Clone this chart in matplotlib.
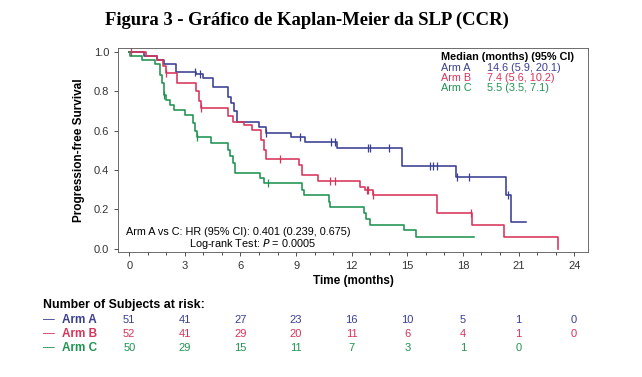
import numpy as np
import matplotlib
matplotlib.use('Agg')
import matplotlib.pyplot as plt
from matplotlib.ticker import MultipleLocator

plt.rcParams['font.family'] = ['Liberation Sans', 'DejaVu Sans']

# Kaplan-Meier step points (time in months, survival)
t_a = [0, 0.8, 1.5, 1.9, 2.5, 3.6, 4.0, 4.5, 5.35, 5.5, 5.65, 5.8, 7.0, 7.4,
       8.7, 9.5, 11.2, 14.7, 17.6, 20.3, 20.6, 21.4]
s_a = [1.0, 0.98, 0.96, 0.94, 0.90, 0.885, 0.865, 0.82, 0.77, 0.74, 0.70, 0.645,
       0.62, 0.59, 0.567, 0.541, 0.511, 0.423, 0.365, 0.274, 0.137, 0.137]
cens_a = [3.55, 3.8, 7.4, 9.2, 10.9, 11.1, 12.9, 13.0, 14.0, 16.2, 16.4, 16.6,
          17.7, 18.3, 20.45]

t_b = [0, 0.9, 1.5, 1.8, 2.0, 2.6, 3.6, 3.75, 3.85, 5.3, 5.6, 6.2, 6.6, 7.1,
       7.25, 7.4, 9.13, 9.3, 10.2, 12.45, 12.7, 13.15, 16.6, 18.5, 20.2, 23.15]
s_b = [1.0, 0.98, 0.96, 0.93, 0.89, 0.84, 0.80, 0.75, 0.714, 0.672, 0.646, 0.63,
       0.604, 0.553, 0.50, 0.455, 0.426, 0.376, 0.342, 0.316, 0.30, 0.274, 0.181,
       0.122, 0.062, 0.0]
cens_b = [0.1, 2.0, 3.85, 8.15, 10.85, 11.1, 12.8, 12.9, 13.15, 18.45]

t_c = [0, 0.03, 0.7, 1.4, 1.65, 1.75, 1.85, 2.0, 2.2, 2.4, 3.0, 3.45, 3.55, 3.65,
       4.4, 5.3, 5.45, 5.6, 5.72, 7.05, 7.25, 9.3, 9.4, 10.75, 10.84, 12.65,
       12.75, 13.0, 14.8, 15.45, 18.57]
s_c = [1.0, 0.98, 0.96, 0.94, 0.88, 0.84, 0.78, 0.756, 0.731, 0.706, 0.68, 0.638,
       0.60, 0.57, 0.537, 0.503, 0.47, 0.435, 0.384, 0.359, 0.333, 0.30, 0.274,
       0.24, 0.211, 0.181, 0.15, 0.122, 0.096, 0.062, 0.062]
cens_c = [1.85, 3.65, 7.5]

arms = ['Arm A', 'Arm B', 'Arm C']
colors = ['#3a3f92', '#d8335a', '#1f9350']
medians = ['14.6 (5.9, 20.1)', '7.4 (5.6, 10.2)', '5.5 (3.5, 7.1)']

risk_times = [0, 3, 6, 9, 12, 15, 18, 21, 24]
risk_a = [51, 41, 27, 23, 16, 10, 5, 1, 0]
risk_b = [52, 41, 29, 20, 11, 6, 4, 1, 0]
risk_c = [50, 29, 15, 11, 7, 3, 1, 0]

curves = [(t_a, s_a, cens_a), (t_b, s_b, cens_b), (t_c, s_c, cens_c)]
risks = [risk_a, risk_b, risk_c]

fig = plt.figure(figsize=(6.42, 3.77), dpi=100)
ax = fig.add_axes([0.184, 0.332, 0.732, 0.541])

for (t, s, cens), col in zip(curves, colors):
    ax.step(t, s, where='post', color=col, lw=1.15)
    t_arr = np.array(t)
    idx = np.searchsorted(t_arr, cens, side='right') - 1
    ys = np.array(s)[idx]
    ax.plot(cens, ys, ls='none', marker='|', ms=6, mew=0.9, color=col)

ax.set_xlim(-0.6, 24.75)
ax.set_ylim(-0.015, 1.02)
ax.xaxis.set_major_locator(MultipleLocator(3))
ax.xaxis.set_minor_locator(MultipleLocator(1))
ax.set_yticks([0, 0.2, 0.4, 0.6, 0.8, 1.0])
ax.set_yticklabels(['0.0', '0.2', '0.4', '0.6', '0.8', '1.0'])
ax.tick_params(labelsize=8, colors='#333333', length=3, width=0.6)
ax.tick_params(which='minor', length=2, width=0.5)
for sp in ax.spines.values():
    sp.set_linewidth(0.6)
    sp.set_color('#555555')

ax.set_xlabel('Time (months)', fontsize=8.5, fontweight='bold', labelpad=3)
ax.set_ylabel('Progression-free Survival', fontsize=8.5, fontweight='bold', labelpad=6)

# medians box
ax.text(0.688, 0.955, 'Median (months) (95% CI)', transform=ax.transAxes,
        fontsize=7.8, fontweight='bold', ha='left', va='center')
for i, (arm, med, col) in enumerate(zip(arms, medians, colors)):
    yy = 0.903 - i * 0.051
    ax.text(0.688, yy, arm, transform=ax.transAxes, fontsize=7.8, color=col,
            ha='left', va='center')
    ax.text(0.785, yy, med, transform=ax.transAxes, fontsize=7.8, color=col,
            ha='left', va='center')

ax.text(0.016, 0.095, 'Arm A vs C: HR (95% CI): 0.401 (0.239, 0.675)',
        transform=ax.transAxes, fontsize=7.8, ha='left', va='center')
ax.text(0.42, 0.04, 'Log-rank Test: $\\it{P}$ = 0.0005',
        transform=ax.transAxes, fontsize=7.8, ha='right', va='center')

fig.text(0.478, 0.945, 'Figura 3 - Gráfico de Kaplan-Meier da SLP (CCR)',
         family=['Liberation Serif'], fontweight='bold', fontsize=13.4,
         ha='center', va='center')

# number at risk table
fig.text(43 / 642, 1 - 305 / 377, 'Number of Subjects at risk:', fontsize=8.9,
         fontweight='bold', ha='left', va='center')
row_y = [320, 334, 348]
for arm, col, risk, ry in zip(arms, colors, risks, row_y):
    yf = 1 - ry / 377
    fig.text(43 / 642, yf, '\u2014', fontsize=8.5, color=col, ha='left', va='center')
    fig.text(62 / 642, yf, arm, fontsize=8.5, fontweight='bold', color=col,
             ha='left', va='center')
    for tt, n in zip(risk_times, risk):
        xd = ax.transData.transform((tt, 0))[0]
        xf = fig.transFigure.inverted().transform((xd, 0))[0]
        fig.text(xf, yf, str(n), fontsize=8, color=col, ha='center', va='center')

fig.savefig('out.png', dpi=100)
